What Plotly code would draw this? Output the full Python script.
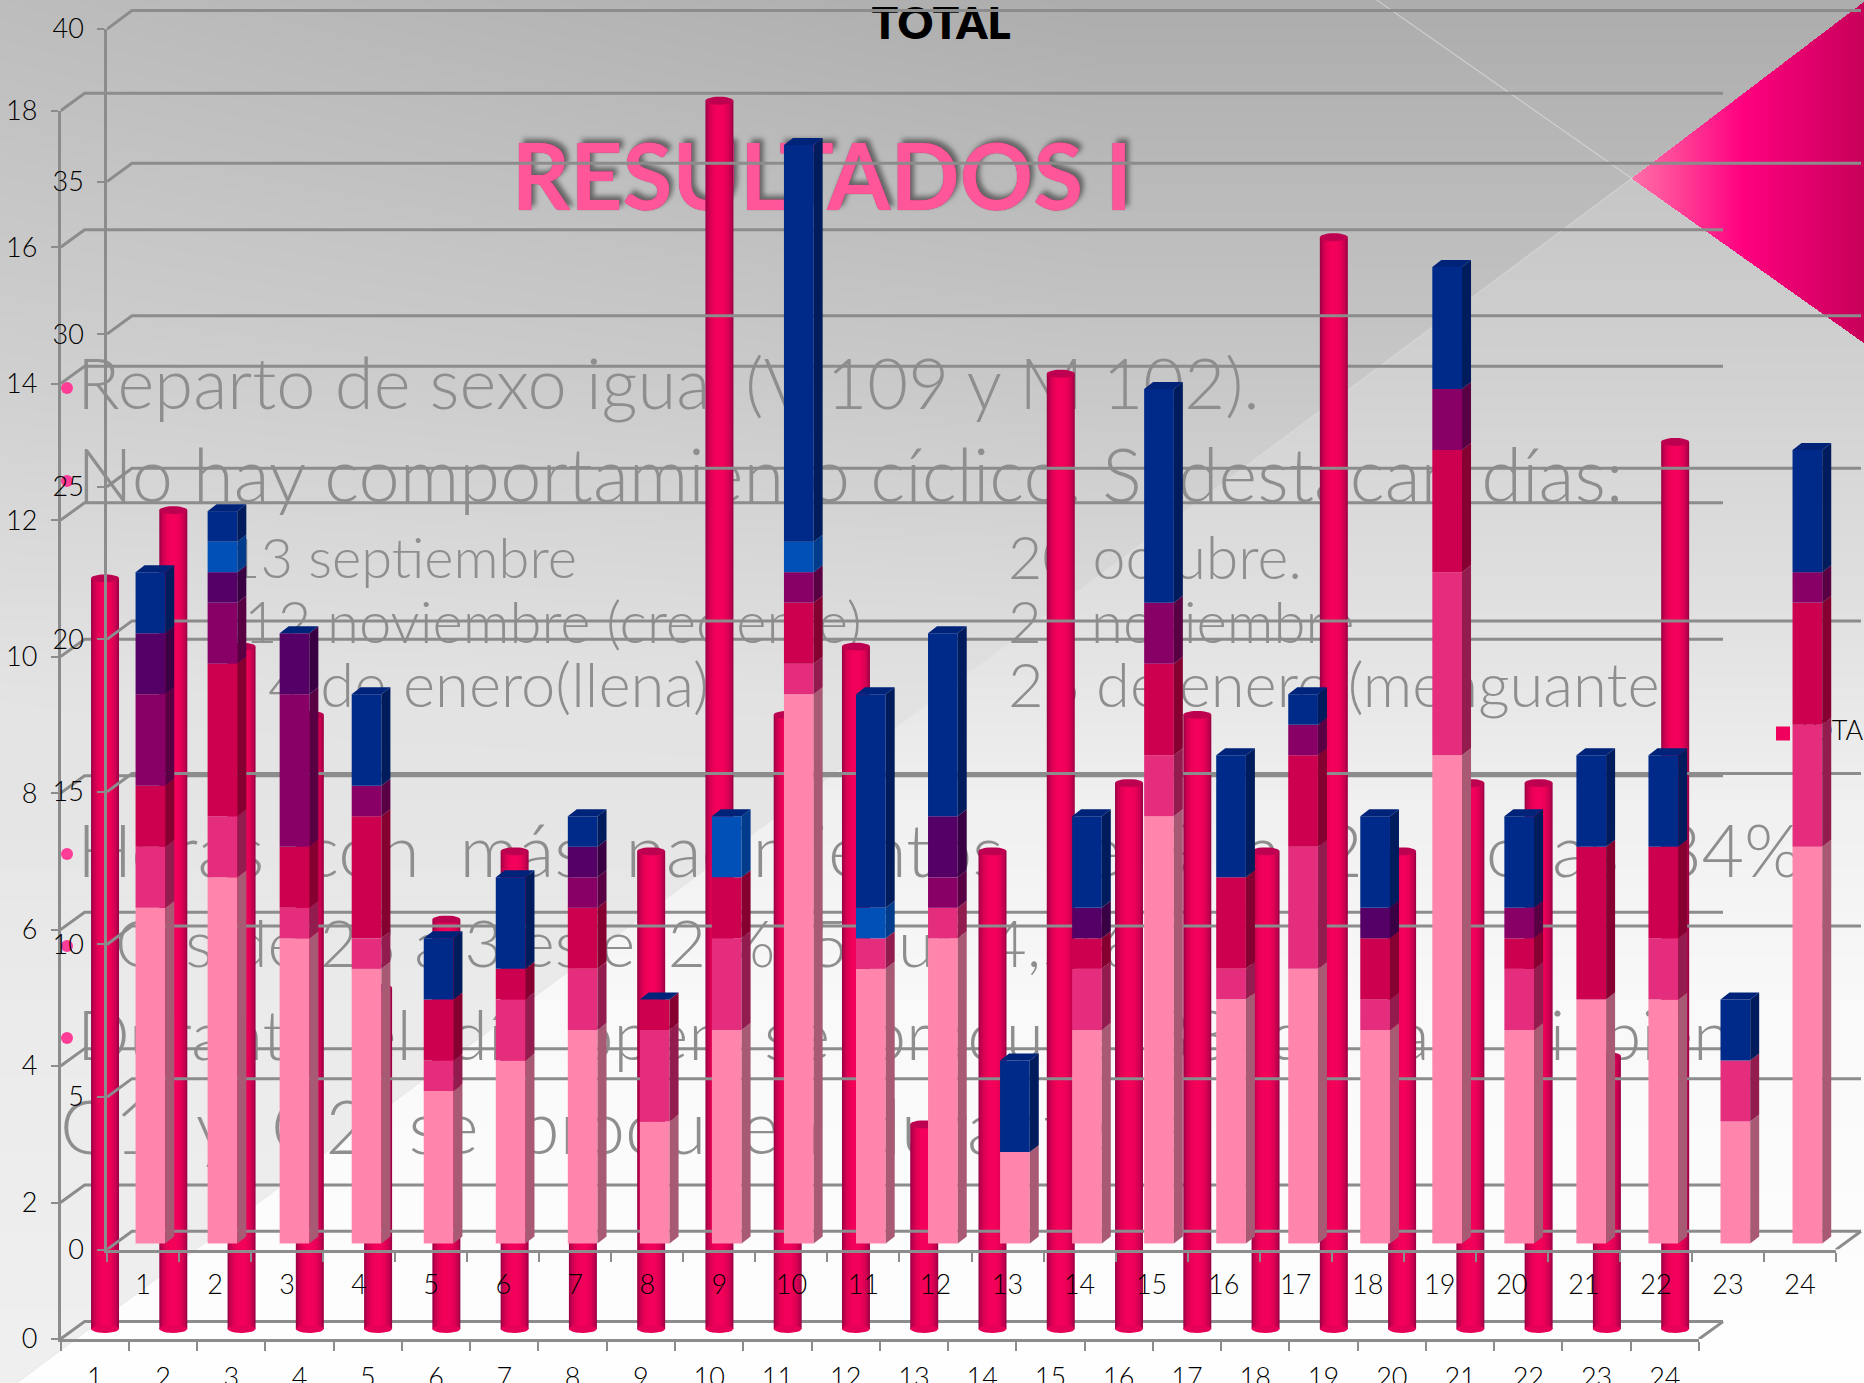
import base64, struct, zlib
import numpy as np
import plotly.graph_objects as go

W, H = 1864, 1383

# ------- data -------
days = list(range(1, 25))
back_total = [11, 12, 10, 9, 5, 6, 7, 4, 7, 18, 9, 10, 3, 7, 14, 8, 9, 7, 16, 7, 8, 8, 4, 13]
s_pink   = [11, 12, 10, 9, 5, 6, 7, 4, 7, 18, 9, 10, 3, 7, 14, 8, 9, 7, 16, 7, 8, 8, 4, 13]
s_rose   = [2, 2, 1, 1, 1, 2, 2, 3, 3, 1, 1, 1, 0, 2, 2, 1, 4, 1, 6, 2, 0, 2, 2, 4]
s_red    = [2, 5, 2, 4, 2, 1, 2, 1, 2, 2, 0, 0, 0, 1, 3, 3, 3, 2, 4, 1, 5, 3, 0, 4]
s_purple = [3, 2, 5, 1, 0, 0, 1, 0, 0, 1, 0, 1, 0, 0, 2, 0, 1, 0, 2, 1, 0, 0, 0, 1]
s_violet = [2, 1, 2, 0, 0, 0, 1, 0, 0, 0, 0, 2, 0, 1, 0, 0, 0, 1, 0, 0, 0, 0, 0, 0]
s_blue   = [0, 1, 0, 0, 0, 0, 0, 0, 2, 1, 1, 0, 0, 0, 0, 0, 0, 0, 0, 0, 0, 0, 0, 0]
s_navy   = [2, 1, 0, 3, 2, 3, 1, 0, 0, 13, 7, 6, 3, 3, 7, 4, 1, 3, 4, 3, 3, 3, 2, 4]
back_ticks = [0, 2, 4, 6, 8, 10, 12, 14, 16, 18]
front_ticks = [0, 5, 10, 15, 20, 25, 30, 35, 40]
chart_title = "TOTAL"
slide_title = "RESULTADOS I"
legend_label = "TOTAL"

# ------- styles -------
GRID = "#8C8C8C"
TEXT = "#8E8E8E"
FONT = "Lato"
series = [
    (s_pink, "#FF85AD", "#A85A74"),
    (s_rose, "#E42D7C", "#921C4E"),
    (s_red, "#CC004F", "#850030"),
    (s_purple, "#880066", "#590044"),
    (s_violet, "#550066", "#3A0044"),
    (s_blue, "#0050B8", "#003B8C"),
    (s_navy, "#002A8A", "#001C5C"),
]
cyl_layers = [(1.0, "#A00048"), (0.9, "#B8004C"), (0.8, "#CC0050"), (0.66, "#DE0054"), (0.5, "#EA0057"), (0.3, "#F2005A")]

# ------- plot boxes in pixels -------
BX0, BX1, BY0, BY1 = 60.6, 1699.0, 1339.0, 110.7     # back chart
FX0, FX1, FY0, FY1 = 107.0, 1836.0, 1249.6, 29.0     # front chart
bux, buy = (BX1 - BX0) / 24, (BY0 - BY1) / 18
fux, fuy = (FX1 - FX0) / 24, (FY0 - FY1) / 40


def background():
    yy, xx = np.mgrid[0:H, 0:W].astype(float)
    up = np.interp(yy, [0, 380, 700, 1000, 1383], [173, 200, 226, 235, 240])
    up = up + 16 * np.clip(1 - xx / 1100, 0, 1) * np.clip(1 - yy / 800, 0, 1)
    lo = np.interp(yy, [0, 178, 380, 600, 800, 1000, 1383], [190, 198, 210, 224, 240, 249, 255])
    d1 = yy - (178 + (1631 - xx) * 0.746)      # below the long diagonal
    t = np.clip(d1 + 0.5, 0, 1)
    g = up * (1 - t) + lo * t
    img = np.stack([g, g, g], axis=2)
    # thin light lines
    d2 = np.abs(yy - (xx - 1377) * 0.70)
    a2 = np.clip(1.3 - d2, 0, 1)[..., None] * 0.55
    img = img * (1 - a2) + 225 * a2
    a1 = np.clip(1.3 - np.abs(d1), 0, 1)[..., None] * 0.45
    img = img * (1 - a1) + 225 * a1
    # pink triangle
    inside = (xx > 1631) & (yy > 178 - (xx - 1631) * 0.76) & (yy < 178 + (xx - 1631) * 0.708)
    for c, stops in enumerate(([255, 255, 200], [112, 0, 0], [168, 128, 90])):
        ch = np.interp(xx, [1631, 1743, 1864], stops)
        img[..., c] = np.where(inside, ch, img[..., c])
    arr = np.clip(img, 0, 255).astype(np.uint8)
    raw = b"".join(b"\x00" + arr[r].tobytes() for r in range(H))

    def chunk(tag, data):
        return struct.pack(">I", len(data)) + tag + data + struct.pack(">I", zlib.crc32(tag + data) & 0xFFFFFFFF)

    png = b"\x89PNG\r\n\x1a\n" + chunk(b"IHDR", struct.pack(">IIBBBBB", W, H, 8, 2, 0, 0, 0)) + chunk(b"IDAT", zlib.compress(raw, 9)) + chunk(b"IEND", b"")
    return "data:image/png;base64," + base64.b64encode(png).decode()


fig = go.Figure()


def axis_pair(n, x0, x1, y0, y1, xr, yr, **extra):
    sx = "" if n == 1 else str(n)
    xa = dict(domain=[x0 / W, x1 / W], range=xr, visible=False, anchor="y" + sx, showgrid=False, zeroline=False, fixedrange=True, automargin=False)
    ya = dict(domain=[1 - y0 / H, 1 - y1 / H], range=yr, visible=False, anchor="x" + sx, showgrid=False, zeroline=False, fixedrange=True, automargin=False)
    xa.update(extra.get("x", {}))
    ya.update(extra.get("y", {}))
    fig.layout["xaxis" + sx] = xa
    fig.layout["yaxis" + sx] = ya
    return "x" + sx, "y" + sx


def open_pair(n, x0, y0, ux, uy):
    """Same scale as a chart's axes, but reaching the page edges so nothing is clipped."""
    return axis_pair(n, x0, W, y0, 0, [0, (W - x0) / ux], [0, y0 / uy])


tickfont = dict(family=FONT, size=27, color="#000000", weight=300)


def x_axis_style(ticklen):
    edges = list(range(25))
    return dict(
        visible=True, showline=True, linecolor=GRID, linewidth=3,
        tickmode="array", tickvals=[d - 0.5 for d in days], ticktext=[str(d) for d in days],
        ticks="outside", ticklen=ticklen, tickcolor="rgba(0,0,0,0)", tickangle=0, tickfont=tickfont,
        minor=dict(tickmode="array", tickvals=edges, ticks="outside", ticklen=9, tickcolor=GRID, tickwidth=2, showgrid=False),
    )


def y_axis_style(vals, standoff):
    return dict(
        visible=True, showline=True, linecolor=GRID, linewidth=2.5,
        tickmode="array", tickvals=vals, ticktext=[str(v) for v in vals],
        ticks="outside", ticklen=7, tickcolor=GRID, tickwidth=2, tickfont=tickfont, ticklabelstandoff=standoff,
    )


# slide layer in pixel coordinates, then axis / wall / marks of each chart, back to front
x1, y1 = axis_pair(1, 0, W, H, 0, [0, W], [H, 0])
x2, y2 = axis_pair(2, BX0, BX1, BY0, BY1, [0, 24], [0, 18], x=x_axis_style(13), y=y_axis_style(back_ticks, 8))
x3, y3 = open_pair(3, BX0, BY0, bux, buy)
x4, y4 = open_pair(4, BX0, BY0, bux, buy)
x5, y5 = axis_pair(5, FX0, FX1, FY0, FY1, [0, 24], [0, 40], x=x_axis_style(9), y=y_axis_style(front_ticks, 8))
x6, y6 = open_pair(6, FX0, FY0, fux, fuy)
x7, y7 = open_pair(7, FX0, FY0, fux, fuy)

# ------- slide text -------
NB = "\u00a0"
body_lines = [
    (77, 391, "Reparto de sexo igual (V 109 y M 102).", 70.5),
    (77, 483, "No hay comportamiento cíclico. Sí destacan días:", 74),
    (228, 564, "13 septiembre", 56),
    (1008, 564, "20 octubre.", 59),
    (244, 628, "12 noviembre (creciente)", 58),
    (1008, 628, "21 noviembre", 58),
    (268, 692, "4 de enero(llena)", 61.5),
    (1008, 692, "26 de enero (menguante", 61.5),
    (77, 859, "Horas con más nacimientos de 9 a 21 horas 84%.".replace(" ", NB * 2), 73.5),
    (115, 950, "O" + NB + "s" + NB + "de 23 a 3 es el 2 % (5), un 4,5%.", 66),
    (77, 1043, "Durante el día open se produce 83 de las. Si bien".replace(" ", NB * 2), 69.5),
    (60, 1135, "G1 y G2 se producen durante el día.".replace(" ", NB * 2), 74),
]
for px, py, txt, size in body_lines:
    fig.add_trace(go.Scatter(x=[px], y=[py], xaxis=x1, yaxis=y1, mode="text", text=[txt], textposition="middle right",
                             textfont=dict(family=FONT, size=size, color=TEXT, weight=300), cliponaxis=False, hoverinfo="skip", showlegend=False))
fig.add_trace(go.Scatter(x=[67, 67, 67, 67, 67], y=[388, 481, 854, 946, 1038], xaxis=x1, yaxis=y1, mode="markers",
                         marker=dict(size=12, color="#FF3C96"), hoverinfo="skip", showlegend=False))
fig.add_trace(go.Scatter(x=[822], y=[187], xaxis=x1, yaxis=y1, mode="text", text=[slide_title], textposition="middle center",
                         textfont=dict(family=FONT, size=91, color="#FF5599", weight=700, shadow="0 0 1px #B02C68, 4px -4px 5px #666666"),
                         cliponaxis=False, hoverinfo="skip", showlegend=False))
fig.add_trace(go.Scatter(x=[941], y=[28], xaxis=x1, yaxis=y1, mode="text", text=[chart_title], textposition="middle center",
                         textfont=dict(family=FONT, size=44, color="#000000", weight=800), cliponaxis=False, hoverinfo="skip", showlegend=False))
fig.add_trace(go.Scatter(x=[1783], y=[733.5], xaxis=x1, yaxis=y1, mode="markers", marker=dict(symbol="square", size=14, color="#F0005C"),
                         hoverinfo="skip", showlegend=False))
fig.add_trace(go.Scatter(x=[1797], y=[733.5], xaxis=x1, yaxis=y1, mode="text", text=[legend_label], textposition="middle right",
                         textfont=dict(family=FONT, size=27, color="#000000", weight=300), cliponaxis=False, hoverinfo="skip", showlegend=False))

# the labelled axes need a trace to exist
for xa, ya in ((x2, y2), (x5, y5)):
    fig.add_trace(go.Scatter(x=[0], y=[0], xaxis=xa, yaxis=ya, mode="markers", marker=dict(size=1, opacity=0), hoverinfo="skip", showlegend=False))


def wall_grid(ticks, dx, dy, xa, ya):
    xs, ys = [], []
    for v in ticks:
        xs += [0, dx, 24 + dx, None]
        ys += [v, v + dy, v + dy, None]
    xs += [24, 24 + dx, None]
    ys += [0, dy, None]
    fig.add_trace(go.Scatter(x=xs, y=ys, xaxis=xa, yaxis=ya, mode="lines", line=dict(color=GRID, width=3),
                             cliponaxis=False, hoverinfo="skip", showlegend=False))


# ------- back chart: cylinders -------
wall_grid(back_ticks, 24 / bux, 17.4 / buy, x3, y3)
cyl_x = [d - 0.5 + 10.3 / bux for d in days]
cyl_w = 28 / bux
cyl_lift = 10 / buy
for frac, col in cyl_layers:
    fig.add_trace(go.Bar(x=cyl_x, y=back_total, base=[cyl_lift] * 24, width=cyl_w * frac, xaxis=x4, yaxis=y4,
                         marker=dict(color=col, line=dict(width=0)), cliponaxis=False, hoverinfo="skip", showlegend=False))


def ellipses(values, col):
    th = np.linspace(0, 2 * np.pi, 25)
    xs, ys = [], []
    for cx, v in zip(cyl_x, values):
        xs += list(cx + cyl_w / 2 * np.cos(th)) + [None]
        ys += list(v + cyl_lift + 4 / buy * np.sin(th)) + [None]
    fig.add_trace(go.Scatter(x=xs, y=ys, xaxis=x4, yaxis=y4, mode="lines", fill="toself", fillcolor=col, line=dict(width=0, color=col),
                             cliponaxis=False, hoverinfo="skip", showlegend=False))


ellipses([0] * 24, "#E60057")
ellipses(back_total, "#BE0050")

# ------- front chart: stacked 3D columns -------
wall_grid(front_ticks, 25 / fux, 18.4 / fuy, x6, y6)
bar_x = [d - 0.5 + 7.4 / fux for d in days]
bar_w = 29.7 / fux
bar_lift = 6.1 / fuy
side_dx, side_dy = 9 / fux, 7 / fuy
cum = np.zeros(24)
for vals, face, side in series:
    v = np.array(vals, dtype=float)
    fig.add_trace(go.Bar(x=bar_x, y=vals, base=list(cum + bar_lift), width=bar_w, xaxis=x7, yaxis=y7,
                         marker=dict(color=face, line=dict(width=0)), cliponaxis=False, hoverinfo="skip", showlegend=False))
    xs, ys = [], []
    for cx, b, h in zip(bar_x, cum + bar_lift, v):
        if h > 0:
            r = cx + bar_w / 2
            xs += [r, r + side_dx, r + side_dx, r, r, None]
            ys += [b, b + side_dy, b + h + side_dy, b + h, b, None]
    fig.add_trace(go.Scatter(x=xs, y=ys, xaxis=x7, yaxis=y7, mode="lines", fill="toself", fillcolor=side, line=dict(width=0, color=side),
                             cliponaxis=False, hoverinfo="skip", showlegend=False))
    cum = cum + v

xs, ys = [], []
for cx, t in zip(bar_x, cum + bar_lift):
    l, r = cx - bar_w / 2, cx + bar_w / 2
    xs += [l, l + side_dx, r + side_dx, r, l, None]
    ys += [t, t + side_dy, t + side_dy, t, t, None]
fig.add_trace(go.Scatter(x=xs, y=ys, xaxis=x7, yaxis=y7, mode="lines", fill="toself", fillcolor="#00237A", line=dict(width=0, color="#00237A"),
                         cliponaxis=False, hoverinfo="skip", showlegend=False))

fig.update_layout(
    width=W, height=H, margin=dict(l=0, r=0, t=0, b=0, pad=0, autoexpand=False), autosize=False,
    paper_bgcolor="white", plot_bgcolor="rgba(0,0,0,0)", barmode="overlay", showlegend=False,
    images=[dict(source=background(), xref="paper", yref="paper", x=0, y=1, sizex=1, sizey=1, sizing="stretch", layer="below")],
)
fig.write_html("out.html", post_script="document.body.style.margin='0';document.body.style.overflow='hidden';",
               config=dict(displayModeBar=False))
